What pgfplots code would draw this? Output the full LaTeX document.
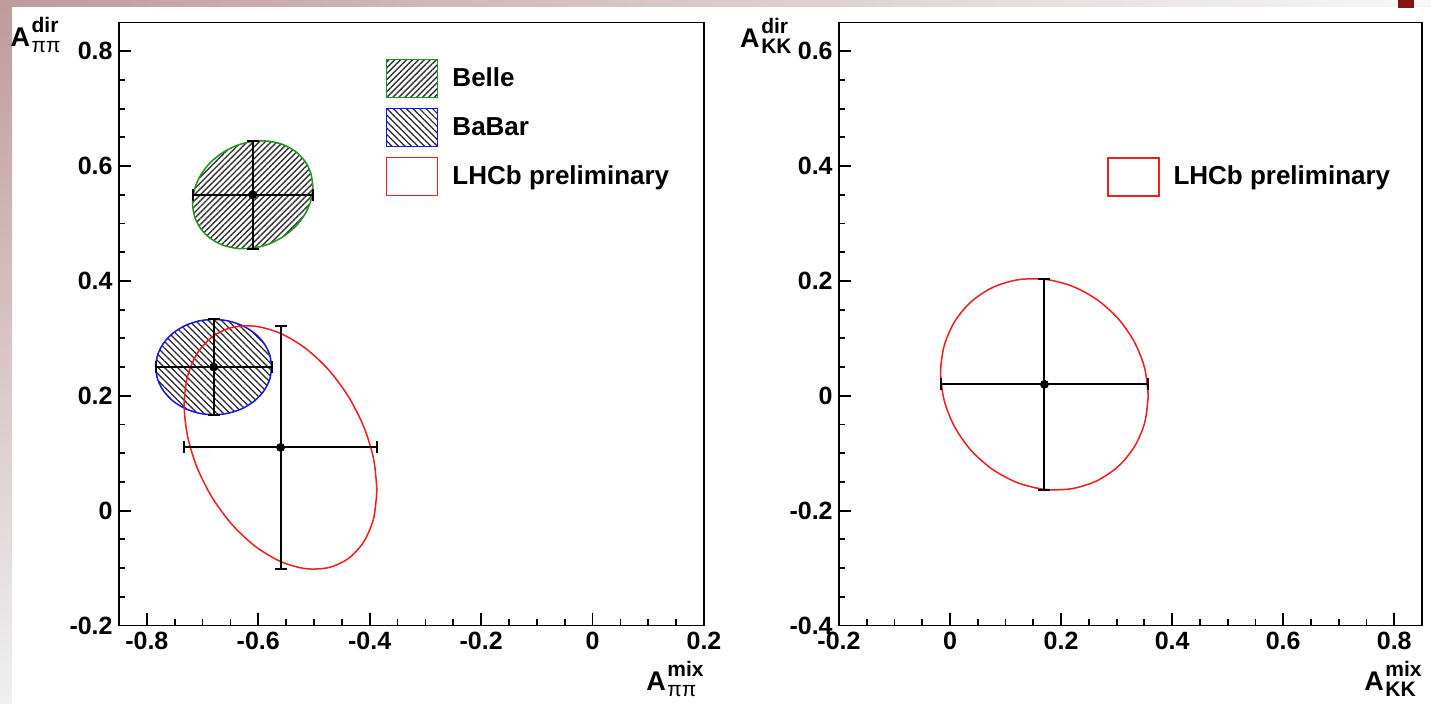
\documentclass[border=0pt]{standalone}
\usepackage{pgfplots}
\pgfplotsset{compat=1.18}
\usepackage{fontspec}
\setmainfont{Liberation Sans}
\usetikzlibrary{patterns.meta}
\definecolor{belleg}{RGB}{30,150,30}
\definecolor{babarb}{RGB}{20,20,240}
\definecolor{lhcbr}{RGB}{240,30,30}
\definecolor{marble}{RGB}{192,155,155}
\definecolor{slidered}{RGB}{130,20,20}
\newdimen\labw
\newcommand{\axlab}[2]{\mbox{\fontsize{13.5}{13.5}\selectfont\bfseries A}\kern0.8pt%
\setbox0=\hbox{\fontsize{10.5}{10.5}\selectfont #1}%
\setbox2=\hbox{\fontsize{10.5}{10.5}\selectfont #2}%
\labw=\wd0 \ifdim\wd2>\labw \labw=\wd2 \fi
\rlap{\raise7pt\box0}\rlap{\lower2.8pt\box2}\kern\labw}
\pgfplotsset{rootax/.style={
  scale only axis, width=292.5pt, height=301.5pt,
  axis line style={line width=0.9pt, black},
  tick style={line width=0.9pt, black},
  major tick length=6pt, minor tick length=3pt,
  tick align=inside, tick pos=left,
  minor x tick num=3, minor y tick num=3,
  ticklabel style={font=\fontsize{12.5}{12.5}\selectfont\bfseries},
  /pgf/number format/assume math mode=true,
  yticklabel style={anchor=east, inner sep=0pt, xshift=-3pt},
  xticklabel style={anchor=north, inner sep=0pt, yshift=-3pt},
  every axis x label/.style={at={(rel axis cs:1,0)}, anchor=base east, inner sep=0pt, yshift=-32.75pt},
  legend style={draw=none, fill=none, inner sep=0pt, outer sep=0pt,
    row sep=4.75pt, column sep=5pt, anchor=north west,
    font=\fontsize{13}{13}\selectfont\bfseries,
    cells={anchor=west}},
  boxleg/.style={legend image code/.code={\draw[##1] (0pt,-9.5pt) rectangle (25.5pt,9.5pt);}},
  ebar/.style={forget plot, only marks, black, mark=*, mark size=2pt,
    mark options={line width=0.4pt, fill=black},
    error bars/.cd, x dir=both, x explicit, y dir=both, y explicit,
    error mark=|,
    error bar style={line width=1pt, black},
    error mark options={line width=1pt, mark size=3pt, black}}
}}
\begin{document}
\begin{tikzpicture}
\useasboundingbox (0,0) rectangle (715.5pt,-352pt);
\begin{scope}[x=0.5pt,y=-0.5pt]
\fill[white] (0,0) rectangle (1431,704);
\shade[top color=marble, bottom color=gray!12] (0,0) rectangle (12,704);
\shade[left color=marble, right color=gray!6] (0,0) rectangle (1431,7);
\fill[slidered] (1398,0) rectangle (1414,8);
\end{scope}

% ---------------- left panel: pi pi ----------------
\begin{axis}[rootax,
  at={(59.5pt,-312.75pt)}, anchor=south west,
  xmin=-0.85, xmax=0.2, ymin=-0.2, ymax=0.85,
  xtick={-0.8,-0.6,-0.4,-0.2,0,0.2},
  ytick={-0.2,0,0.2,0.4,0.6,0.8},
  xlabel={\axlab{\bfseries mix}{ππ}},
  ylabel={\axlab{\bfseries dir}{ππ}},
  every axis y label/.style={at={(rel axis cs:0,1)}, anchor=base east, inner sep=0pt, xshift=-29pt, yshift=-12.25pt},
  legend style={at={(0.4564,0.9395)}}]
% Belle
\addplot[boxleg, belleg, line width=0.75pt, smooth,
  pattern={Lines[angle=45,distance=2.1pt,line width=0.7pt]}, pattern color=black!80]
 coordinates {(-0.502,0.5641) (-0.5057,0.5877) (-0.5165,0.6087) (-0.5336,0.6257)
 (-0.556,0.6375) (-0.582,0.6434) (-0.61,0.6429) (-0.638,0.6361) (-0.664,0.6234)
 (-0.6864,0.6057) (-0.7035,0.5843) (-0.7143,0.5604) (-0.718,0.5359) (-0.7143,0.5123)
 (-0.7035,0.4913) (-0.6864,0.4743) (-0.664,0.4625) (-0.638,0.4566) (-0.61,0.4571)
 (-0.582,0.4639) (-0.556,0.4766) (-0.5336,0.4943) (-0.5165,0.5157) (-0.5057,0.5396)
 (-0.502,0.5641)} -- cycle;
\addlegendentry{Belle}
% BaBar
\addplot[boxleg, babarb, line width=0.75pt, smooth,
  pattern={Lines[angle=-45,distance=2.3pt,line width=0.6pt]}, pattern color=black!85]
 coordinates {(-0.576,0.25) (-0.5795,0.2715) (-0.5899,0.2915) (-0.6065,0.3087)
 (-0.628,0.3219) (-0.6531,0.3302) (-0.68,0.333) (-0.7069,0.3302) (-0.732,0.3219)
 (-0.7535,0.3087) (-0.7701,0.2915) (-0.7805,0.2715) (-0.784,0.25) (-0.7805,0.2285)
 (-0.7701,0.2085) (-0.7535,0.1913) (-0.732,0.1781) (-0.7069,0.1698) (-0.68,0.167)
 (-0.6531,0.1698) (-0.628,0.1781) (-0.6065,0.1913) (-0.5899,0.2085) (-0.5795,0.2285)
 (-0.576,0.25)} -- cycle;
\addlegendentry{BaBar}
% LHCb
\addplot[boxleg, lhcbr, line width=0.75pt, smooth]
 coordinates {(-0.387,0.0358) (-0.3929,0.0897) (-0.4102,0.145) (-0.4377,0.1979)
 (-0.4735,0.2449) (-0.5152,0.2826) (-0.56,0.3086) (-0.6048,0.321) (-0.6465,0.3191)
 (-0.6823,0.3029) (-0.7098,0.2736) (-0.7271,0.2331) (-0.733,0.1842) (-0.7271,0.1303)
 (-0.7098,0.075) (-0.6823,0.0221) (-0.6465,-0.0249) (-0.6048,-0.0626) (-0.56,-0.0886)
 (-0.5152,-0.101) (-0.4735,-0.0991) (-0.4377,-0.0829) (-0.4102,-0.0536) (-0.3929,-0.0131)
 (-0.387,0.0358)} -- cycle;
\addlegendentry{\raisebox{0pt}[\height][0pt]{LHCb preliminary}}
% central values with errors
\addplot[ebar] coordinates {
 (-0.61,0.55) +- (0.108,0.094)
 (-0.68,0.25) +- (0.104,0.083)
 (-0.56,0.11) +- (0.173,0.212)};
\end{axis}

% ---------------- right panel: K K ----------------
\begin{axis}[rootax,
  at={(419.5pt,-312.75pt)}, anchor=south west, width=291.5pt,
  xmin=-0.2, xmax=0.85, ymin=-0.4, ymax=0.65,
  xtick={-0.2,0,0.2,0.4,0.6,0.8},
  ytick={-0.4,-0.2,0,0.2,0.4,0.6},
  xlabel={\axlab{\bfseries mix}{\bfseries KK}},
  ylabel={\axlab{\bfseries dir}{\bfseries KK}},
  every axis y label/.style={at={(rel axis cs:0,1)}, anchor=base east, inner sep=0pt, xshift=-23.5pt, yshift=-12.75pt},
  legend style={at={(0.4597,0.7765)}}]
\addplot[boxleg, lhcbr, line width=0.75pt, smooth]
 coordinates {(0.357,-0.0002) (0.3506,0.0478) (0.3319,0.0939) (0.3022,0.135)
 (0.2635,0.1682) (0.2184,0.1914) (0.17,0.2029) (0.1216,0.2019) (0.0765,0.1885)
 (0.0378,0.1636) (0.0081,0.129) (-0.0106,0.0869) (-0.017,0.0402) (-0.0106,-0.0078)
 (0.0081,-0.0539) (0.0378,-0.095) (0.0765,-0.1282) (0.1216,-0.1514) (0.17,-0.1629)
 (0.2184,-0.1619) (0.2635,-0.1485) (0.3022,-0.1236) (0.3319,-0.089) (0.3506,-0.0469)
 (0.357,-0.0002)} -- cycle;
\addlegendentry{\raisebox{0pt}[\height][0pt]{LHCb preliminary}}
\addplot[ebar] coordinates {(0.17,0.02) +- (0.187,0.184)};
\end{axis}
\end{tikzpicture}
\end{document}
